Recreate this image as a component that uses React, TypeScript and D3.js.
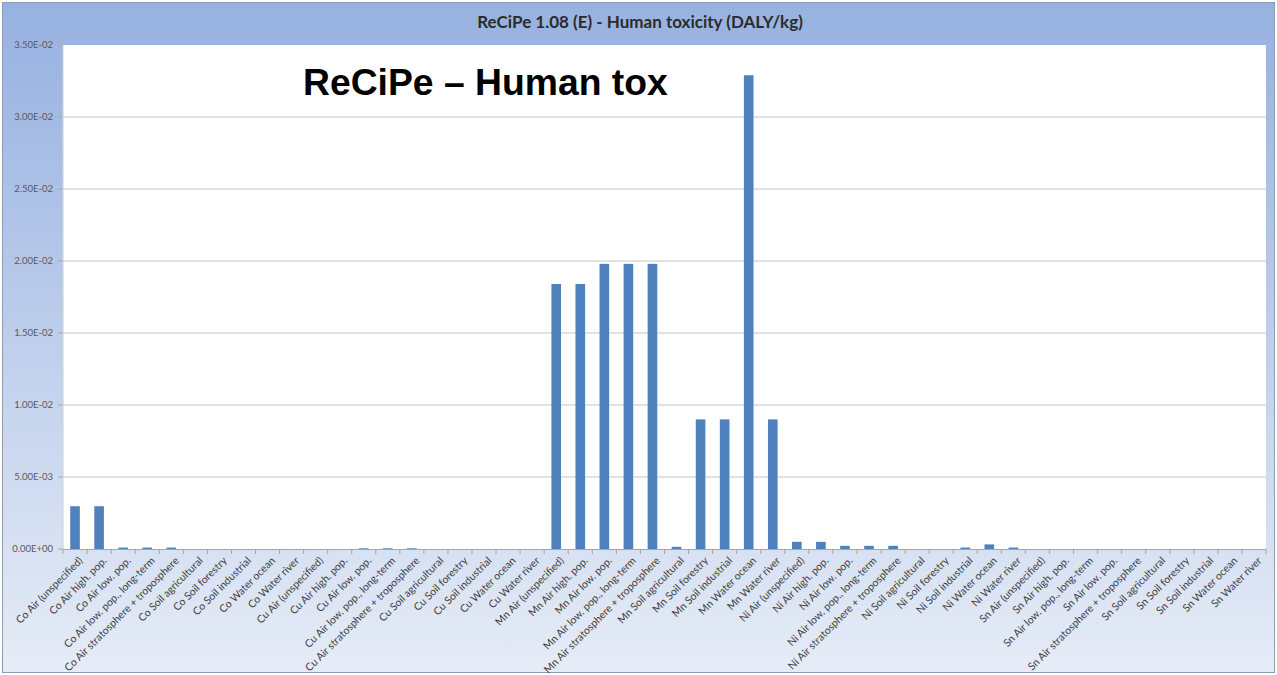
import React from "react";
import * as d3 from "d3";

const categories: string[] = [
  "Co Air (unspecified)", "Co Air high. pop.", "Co Air low. pop.", "Co Air low. pop., long-term", "Co Air stratosphere + troposphere",
  "Co Soil agricultural", "Co Soil forestry", "Co Soil industrial", "Co Water ocean", "Co Water river",
  "Cu Air (unspecified)", "Cu Air high. pop.", "Cu Air low. pop.", "Cu Air low. pop., long-term", "Cu Air stratosphere + troposphere",
  "Cu Soil agricultural", "Cu Soil forestry", "Cu Soil industrial", "Cu Water ocean", "Cu Water river",
  "Mn Air (unspecified)", "Mn Air high. pop.", "Mn Air low. pop.", "Mn Air low. pop., long-term", "Mn Air stratosphere + troposphere",
  "Mn Soil agricultural", "Mn Soil forestry", "Mn Soil industrial", "Mn Water ocean", "Mn Water river",
  "Ni Air (unspecified)", "Ni Air high. pop.", "Ni Air low. pop.", "Ni Air low. pop., long-term", "Ni Air stratosphere + troposphere",
  "Ni Soil agricultural", "Ni Soil forestry", "Ni Soil industrial", "Ni Water ocean", "Ni Water river",
  "Sn Air (unspecified)", "Sn Air high. pop.", "Sn Air low. pop., long-term", "Sn Air low. pop.", "Sn Air stratosphere + troposphere",
  "Sn Soil agricultural", "Sn Soil forestry", "Sn Soil industrial", "Sn Water ocean", "Sn Water river",
];

const coValues = [0.00297, 0.00297, 0.0001, 0.0001, 0.0001, 0, 0, 0, 0, 0];
const cuValues = [0, 0, 0.00005, 0.00005, 0.00005, 0, 0, 0, 0, 0];
const mnValues = [0.0184, 0.0184, 0.0198, 0.0198, 0.0198, 0.00015, 0.009, 0.009, 0.0329, 0.009];
const niValues = [0.0005, 0.0005, 0.00022, 0.00022, 0.00022, 0, 0, 0.0001, 0.00032, 0.0001];
const snValues = [0, 0, 0, 0, 0, 0, 0, 0, 0, 0];

const yTicks = [0, 0.005, 0.01, 0.015, 0.02, 0.025, 0.03, 0.035];
const yTickLabels = ["0.00E+00", "5.00E-03", "1.00E-02", "1.50E-02", "2.00E-02", "2.50E-02", "3.00E-02", "3.50E-02"];

const chartTitle = "ReCiPe 1.08 (E) - Human toxicity (DALY/kg)";
const overlayTitle = "ReCiPe \u2013 Human tox";

export default function App() {
  const W = 1277;
  const H = 675;
  const left = 63;
  const right = 1266;
  const top = 45;
  const bottom = 549;

  const values = [...coValues, ...cuValues, ...mnValues, ...niValues, ...snValues];
  const data = categories.map((c, i) => ({ c, v: values[i] }));

  const x = d3.scaleBand<string>().domain(categories).range([left, right]).paddingInner(0.6).paddingOuter(0.3);
  const xOuter = d3.scaleBand<string>().domain(categories).range([left, right]).padding(0);
  const y = d3.scaleLinear().domain([0, 0.035]).range([bottom, top]);

  const labelFont = "Lato, 'Open Sans', sans-serif";

  return (
    <svg width={W} height={H} style={{ position: "absolute", left: 0, top: 0 }}>
      <defs>
        <linearGradient id="bg" x1="0" y1="0" x2="0" y2="1">
          <stop offset="0" stopColor="#98b2e0" />
          <stop offset="0.08" stopColor="#9cb5e2" />
          <stop offset="1" stopColor="#e6ecf7" />
        </linearGradient>
      </defs>
      <rect x={0} y={0} width={W} height={H} fill="#ffffff" />
      <rect x={2.5} y={2.5} width={W - 5} height={H - 5} fill="url(#bg)" stroke="#8e9cb8" strokeWidth={1} />
      <text x={640} y={28} textAnchor="middle" fontFamily={labelFont} fontWeight="bold" fontSize={17} fill="#2b2b2b">
        {chartTitle}
      </text>
      <rect x={left} y={top} width={right - left} height={bottom - top} fill="#ffffff" />
      {yTicks.map((t, i) => (
        <g key={i}>
          {i > 0 && i < yTicks.length - 1 && (
            <line x1={left} x2={right} y1={y(t)} y2={y(t)} stroke="#c4c4c4" strokeWidth={1} />
          )}
          <line x1={left - 5} x2={left} y1={y(t)} y2={y(t)} stroke="#a6a6a6" strokeWidth={1} />
          <text x={left - 10} y={y(t)} dy="0.35em" textAnchor="end" fontFamily={labelFont} fontSize={9.5} fill="#595959">
            {yTickLabels[i]}
          </text>
        </g>
      ))}
      <line x1={left} x2={left} y1={top} y2={bottom} stroke="#d0d0d0" strokeWidth={1} />
      {data.map((d) => (
        <rect
          key={d.c}
          x={x(d.c)}
          y={y(d.v)}
          width={x.bandwidth()}
          height={bottom - y(d.v)}
          fill="#4f81bd"
        />
      ))}
      <line x1={left} x2={right} y1={bottom + 0.5} y2={bottom + 0.5} stroke="#a6a6a6" strokeWidth={1} />
      {categories.map((c) => (
        <line key={"t" + c} x1={xOuter(c)} x2={xOuter(c)} y1={bottom} y2={bottom + 5} stroke="#a6a6a6" strokeWidth={1} />
      ))}
      <line x1={right} x2={right} y1={bottom} y2={bottom + 5} stroke="#a6a6a6" strokeWidth={1} />
      {categories.map((c) => {
        const cx = (xOuter(c) as number) + xOuter.bandwidth() / 2;
        return (
          <text
            key={"l" + c}
            transform={`translate(${cx + 3},${bottom + 7}) rotate(-45)`}
            dy="0.71em"
            textAnchor="end"
            fontFamily={labelFont}
            fontSize={10.5}
            fill="#404040"
          >
            {c}
          </text>
        );
      })}
      <text x={303} y={95} fontFamily="'Liberation Sans', Arial, sans-serif" fontWeight="bold" fontSize={37.3} fill="#000000">
        {overlayTitle}
      </text>
    </svg>
  );
}
